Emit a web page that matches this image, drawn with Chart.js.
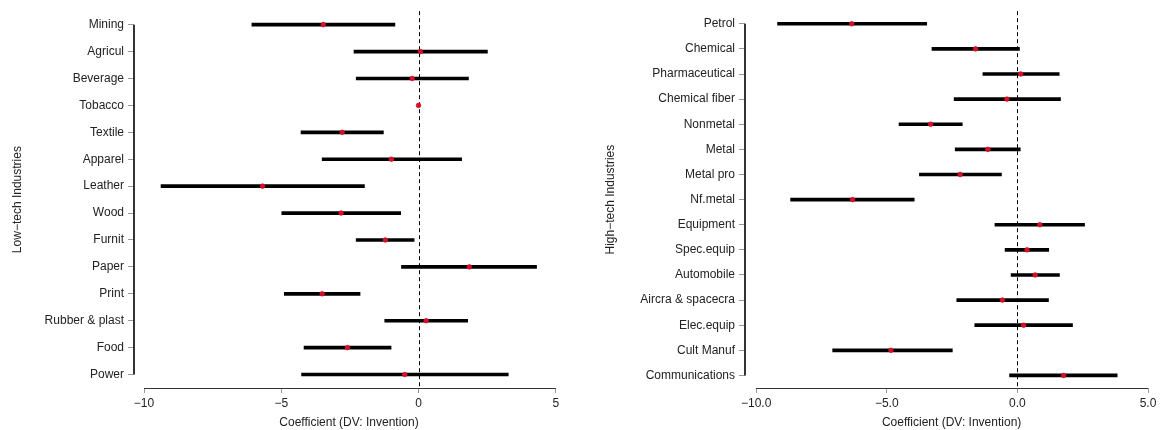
<!DOCTYPE html>
<html>
<head>
<meta charset="utf-8">
<script src="https://cdn.jsdelivr.net/npm/chart.js@4.4.1/dist/chart.umd.min.js"></script>
<style>
  html, body { margin: 0; padding: 0; background: #fff; }
  #wrap { position: relative; width: 1163px; height: 430px; overflow: hidden; }
  #low-chart { position: absolute; left: 0; top: 0; }
  #high-chart { position: absolute; left: 580px; top: 0; }
</style>
</head>
<body>
<div id="wrap">
  <canvas id="low-chart" width="580" height="430"></canvas>
  <canvas id="high-chart" width="583" height="430"></canvas>
</div>
<script>
// Low-tech industries
const lowLabels = ['Mining', 'Agricul', 'Beverage', 'Tobacco', 'Textile', 'Apparel', 'Leather',
  'Wood', 'Furnit', 'Paper', 'Print', 'Rubber & plast', 'Food', 'Power'];
const lowCoef  = [-3.47, 0.07, -0.23, 0.0, -2.78, -0.99, -5.68, -2.82, -1.21, 1.85, -3.51, 0.28, -2.59, -0.50];
const lowLower = [-6.07, -2.35, -2.27, 0.0, -4.28, -3.51, -9.38, -4.98, -2.27, -0.62, -4.89, -1.23, -4.17, -4.26];
const lowUpper = [-0.86, 2.51, 1.82, 0.0, -1.28, 1.57, -1.97, -0.65, -0.16, 4.30, -2.13, 1.79, -1.00, 3.27];

// High-tech industries
const highLabels = ['Petrol', 'Chemical', 'Pharmaceutical', 'Chemical fiber', 'Nonmetal', 'Metal',
  'Metal pro', 'Nf.metal', 'Equipment', 'Spec.equip', 'Automobile', 'Aircra & spacecra',
  'Elec.equip', 'Cult Manuf', 'Communications'];
const highCoef  = [-6.34, -1.60, 0.13, -0.40, -3.32, -1.13, -2.19, -6.31, 0.86, 0.37, 0.68, -0.57, 0.24, -4.84, 1.77];
const highLower = [-9.18, -3.27, -1.32, -2.42, -4.53, -2.38, -3.75, -8.68, -0.86, -0.47, -0.24, -2.32, -1.63, -7.07, -0.30];
const highUpper = [-3.47, 0.08, 1.60, 1.65, -2.11, 0.11, -0.61, -3.95, 2.57, 1.20, 1.61, 1.19, 2.11, -2.49, 3.82];

const xTicks = [-10, -5, 0, 5];
const xTitle = 'Coefficient (DV: Invention)';

const FONT = '"Liberation Sans", Helvetica, Arial, sans-serif';
const TEXT = '#222';

// zero reference line plus R-style axis lines (first tick to last tick)
const axisLines = {
  id: 'axisLines',
  beforeDatasetsDraw(chart) {
    const { ctx, chartArea, scales: { x, y } } = chart;
    const n = chart.data.labels.length;
    ctx.save();
    const zx = Math.round(x.getPixelForValue(0)) + 0.5;
    ctx.strokeStyle = '#000';
    ctx.lineWidth = 1;
    ctx.setLineDash([4, 3]);
    ctx.beginPath();
    ctx.moveTo(zx, chartArea.top);
    ctx.lineTo(zx, chartArea.bottom);
    ctx.stroke();
    ctx.setLineDash([]);

    ctx.strokeStyle = '#333';
    ctx.lineWidth = 2;
    ctx.beginPath();
    ctx.moveTo(chartArea.left, y.getPixelForValue(0));
    ctx.lineTo(chartArea.left, y.getPixelForValue(n - 1));
    ctx.stroke();

    const by = Math.round(chartArea.bottom) + 0.5;
    ctx.lineWidth = 1;
    ctx.beginPath();
    ctx.moveTo(x.getPixelForValue(xTicks[0]), by);
    ctx.lineTo(x.getPixelForValue(xTicks[xTicks.length - 1]), by);
    ctx.stroke();
    ctx.restore();
  }
};

function makeChart(id, labels, coef, lower, upper, cfg) {
  const ctx = document.getElementById(id).getContext('2d');
  return new Chart(ctx, {
    type: 'bar',
    data: {
      labels: labels,
      datasets: [{
        type: 'line',
        data: coef,
        showLine: false,
        pointRadius: 2.3,
        pointBorderWidth: 0.8,
        pointBackgroundColor: '#d7102a',
        pointBorderColor: '#d7102a',
        order: 0
      }, {
        data: lower.map((lo, i) => [lo, upper[i]]),
        backgroundColor: '#000',
        borderWidth: 0,
        borderSkipped: false,
        barThickness: 3,
        order: 1
      }]
    },
    options: {
      indexAxis: 'y',
      responsive: false,
      animation: false,
      devicePixelRatio: 1,
      layout: { padding: { top: 10, right: cfg.padRight, left: 0, bottom: 0 } },
      plugins: { legend: { display: false }, tooltip: { enabled: false } },
      scales: {
        x: {
          type: 'linear',
          min: cfg.min,
          max: cfg.max,
          afterBuildTicks: scale => { scale.ticks = xTicks.map(v => ({ value: v })); },
          afterFit: scale => { scale.height = 42; },
          border: { display: false },
          grid: { drawOnChartArea: false, drawTicks: true, tickLength: 5, color: '#999' },
          ticks: {
            autoSkip: false,
            maxRotation: 0,
            padding: 3,
            color: TEXT,
            font: { family: FONT, size: 12 },
            callback: cfg.fmt
          },
          title: {
            display: true,
            text: xTitle,
            color: TEXT,
            font: { family: FONT, size: 12 },
            padding: { top: 0, bottom: 0 }
          }
        },
        y: {
          afterFit: scale => { scale.width = cfg.yWidth; },
          border: { display: false },
          grid: { drawOnChartArea: false, drawTicks: true, tickLength: 6, offset: false, color: '#999' },
          ticks: {
            autoSkip: false,
            padding: 4,
            color: TEXT,
            font: { family: FONT, size: 12 }
          },
          title: {
            display: true,
            text: cfg.yTitle,
            color: TEXT,
            font: { family: FONT, size: 12 },
            padding: { top: cfg.titlePad, bottom: 0 }
          }
        }
      }
    },
    plugins: [axisLines]
  });
}

document.addEventListener('DOMContentLoaded', function() {
  makeChart('low-chart', lowLabels, lowCoef, lowLower, lowUpper, {
    min: -10.365, max: 5.3, padRight: 16, yWidth: 134, titlePad: 10,
    yTitle: 'Low\u2212tech Industries',
    fmt: v => String(v).replace('-', '\u2212')
  });
  makeChart('high-chart', highLabels, highCoef, highLower, highUpper, {
    min: -10.426, max: 5.39, padRight: 3, yWidth: 165, titlePad: 23,
    yTitle: 'High\u2212tech Industries',
    fmt: v => v.toFixed(1).replace('-', '\u2212')
  });
});
</script>
</body>
</html>
